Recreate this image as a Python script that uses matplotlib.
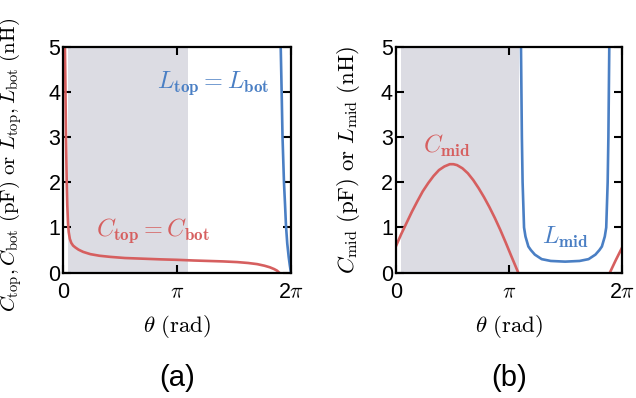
import matplotlib
matplotlib.use("Agg")
import matplotlib.pyplot as plt
import numpy as np

plt.rcParams['font.family'] = ['Liberation Sans', 'DejaVu Sans']
plt.rcParams['mathtext.fontset'] = 'cm'

red = '#d65f5f'
blue = '#4a7fc4'
shade = '#dcdce3'

# panel (a): C_top = C_bot and L_top = L_bot
theta_c_outer = [0.045, 0.055, 0.065, 0.075, 0.085, 0.095, 0.11, 0.13, 0.15, 0.18, 0.22, 0.27,
                 0.33, 0.42, 0.55, 0.75, 1.0, 1.3, 1.7, 2.2, 2.7, 3.14, 3.6, 4.0, 4.4, 4.8,
                 5.1, 5.35, 5.55, 5.7, 5.82, 5.9, 5.96]
c_outer = [5.0, 4.4, 3.7, 3.0, 2.5, 2.0, 1.5, 1.1, 0.9, 0.75, 0.66, 0.6,
           0.56, 0.51, 0.46, 0.41, 0.375, 0.35, 0.325, 0.31, 0.295, 0.285, 0.27, 0.26, 0.25, 0.235,
           0.215, 0.19, 0.155, 0.12, 0.08, 0.045, 0.0]
theta_l_outer = [6.0, 6.026, 6.05, 6.07, 6.09, 6.12, 6.145, 6.18, 6.22, 6.25, 6.283]
l_outer = [5.0, 4.0, 3.0, 2.5, 2.0, 1.5, 1.05, 0.65, 0.35, 0.17, 0.0]

# panel (b): C_mid and L_mid
theta_c_mid = [0.0, 0.15, 0.3, 0.45, 0.6, 0.75, 0.9, 1.05, 1.2, 1.35, 1.5, 1.6, 1.7,
               1.85, 2.0, 2.15, 2.3, 2.45, 2.6, 2.75, 2.9, 3.05, 3.2, 3.3, 3.40]
c_mid = [0.575, 0.85, 1.1, 1.35, 1.58, 1.8, 1.98, 2.14, 2.27, 2.35, 2.40, 2.40, 2.38,
         2.31, 2.20, 2.05, 1.87, 1.67, 1.45, 1.21, 0.95, 0.67, 0.38, 0.19, 0.0]
theta_c_mid2 = [5.94, 6.1, 6.283]
c_mid2 = [0.0, 0.27, 0.56]
theta_l_mid = [3.475, 3.50, 3.52, 3.56, 3.60, 3.68, 3.75, 3.86, 4.05, 4.3, 4.7, 5.1, 5.35,
               5.54, 5.65, 5.72, 5.80, 5.84, 5.88, 5.90, 5.925]
l_mid = [5.0, 3.0, 2.0, 1.0, 0.8, 0.58, 0.5, 0.4, 0.3, 0.26, 0.245, 0.26, 0.3,
         0.4, 0.5, 0.58, 0.8, 1.0, 2.0, 3.0, 5.0]

shade_span = [0.14, 3.43]

xticks = [0, np.pi, 2 * np.pi]
xticklabels = ['0', r'$\pi$', r'2$\pi$']
yticks = [0, 1, 2, 3, 4, 5]

fig = plt.figure(figsize=(6.36, 3.98), dpi=100)
ax1 = fig.add_axes([0.0995, 0.3148, 0.358, 0.568])
ax2 = fig.add_axes([0.6222, 0.3148, 0.3561, 0.568])

for ax in (ax1, ax2):
    ax.axvspan(shade_span[0], shade_span[1], color=shade, lw=0, zorder=0)
    ax.set_xlim(0, 2 * np.pi)
    ax.set_ylim(0, 5)
    ax.set_xticks(xticks)
    ax.set_xticklabels(xticklabels)
    ax.set_yticks(yticks)
    ax.tick_params(direction='in', length=6, width=1.5, labelsize=15.5,
                   top=True, right=True)
    ax.tick_params(axis='x', pad=7)
    ax.tick_params(axis='y', pad=2)
    for s in ax.spines.values():
        s.set_linewidth(1.6)
    ax.set_xlabel(r'$\theta\ (\mathrm{rad})$', fontsize=16.5)
    ax.xaxis.set_label_coords(0.5, -0.18)

ax1.plot(theta_c_outer, c_outer, color=red, lw=1.9)
ax1.plot(theta_l_outer, l_outer, color=blue, lw=1.9)
ax1.text(2.48, 0.94, r'$C_{\mathbf{top}}=C_{\mathbf{bot}}$', color=red, fontsize=17.5,
         ha='center', va='center')
ax1.text(4.13, 4.2, r'$L_{\mathbf{top}}=L_{\mathbf{bot}}$', color=blue, fontsize=17.5,
         ha='center', va='center')
ax1.set_ylabel(r'$C_{\rm top}, C_{\rm bot}\ ({\rm pF})\ {\rm or}\ L_{\rm top}, L_{\rm bot}\ ({\rm nH})$',
               fontsize=15)
ax1.yaxis.set_label_coords(-0.172, 0.475)

ax2.plot(theta_c_mid, c_mid, color=red, lw=1.9)
ax2.plot(theta_c_mid2, c_mid2, color=red, lw=1.9)
ax2.plot(theta_l_mid, l_mid, color=blue, lw=1.9)
ax2.text(1.41, 2.81, r'$C_{\mathbf{mid}}$', color=red, fontsize=17.5, ha='center', va='center')
ax2.text(4.72, 0.79, r'$L_{\mathbf{mid}}$', color=blue, fontsize=17.5, ha='center', va='center')
ax2.set_ylabel(r'$C_{\rm mid}\ ({\rm pF})\ {\rm or}\ L_{\rm mid}\ ({\rm nH})$', fontsize=16.5)
ax2.yaxis.set_label_coords(-0.15, 0.5)

fig.text(177 / 636, 1 - 378 / 398, '(a)', fontsize=21, ha='center', va='center')
fig.text(509 / 636, 1 - 378 / 398, '(b)', fontsize=21, ha='center', va='center')

fig.savefig('out.png', dpi=100)
